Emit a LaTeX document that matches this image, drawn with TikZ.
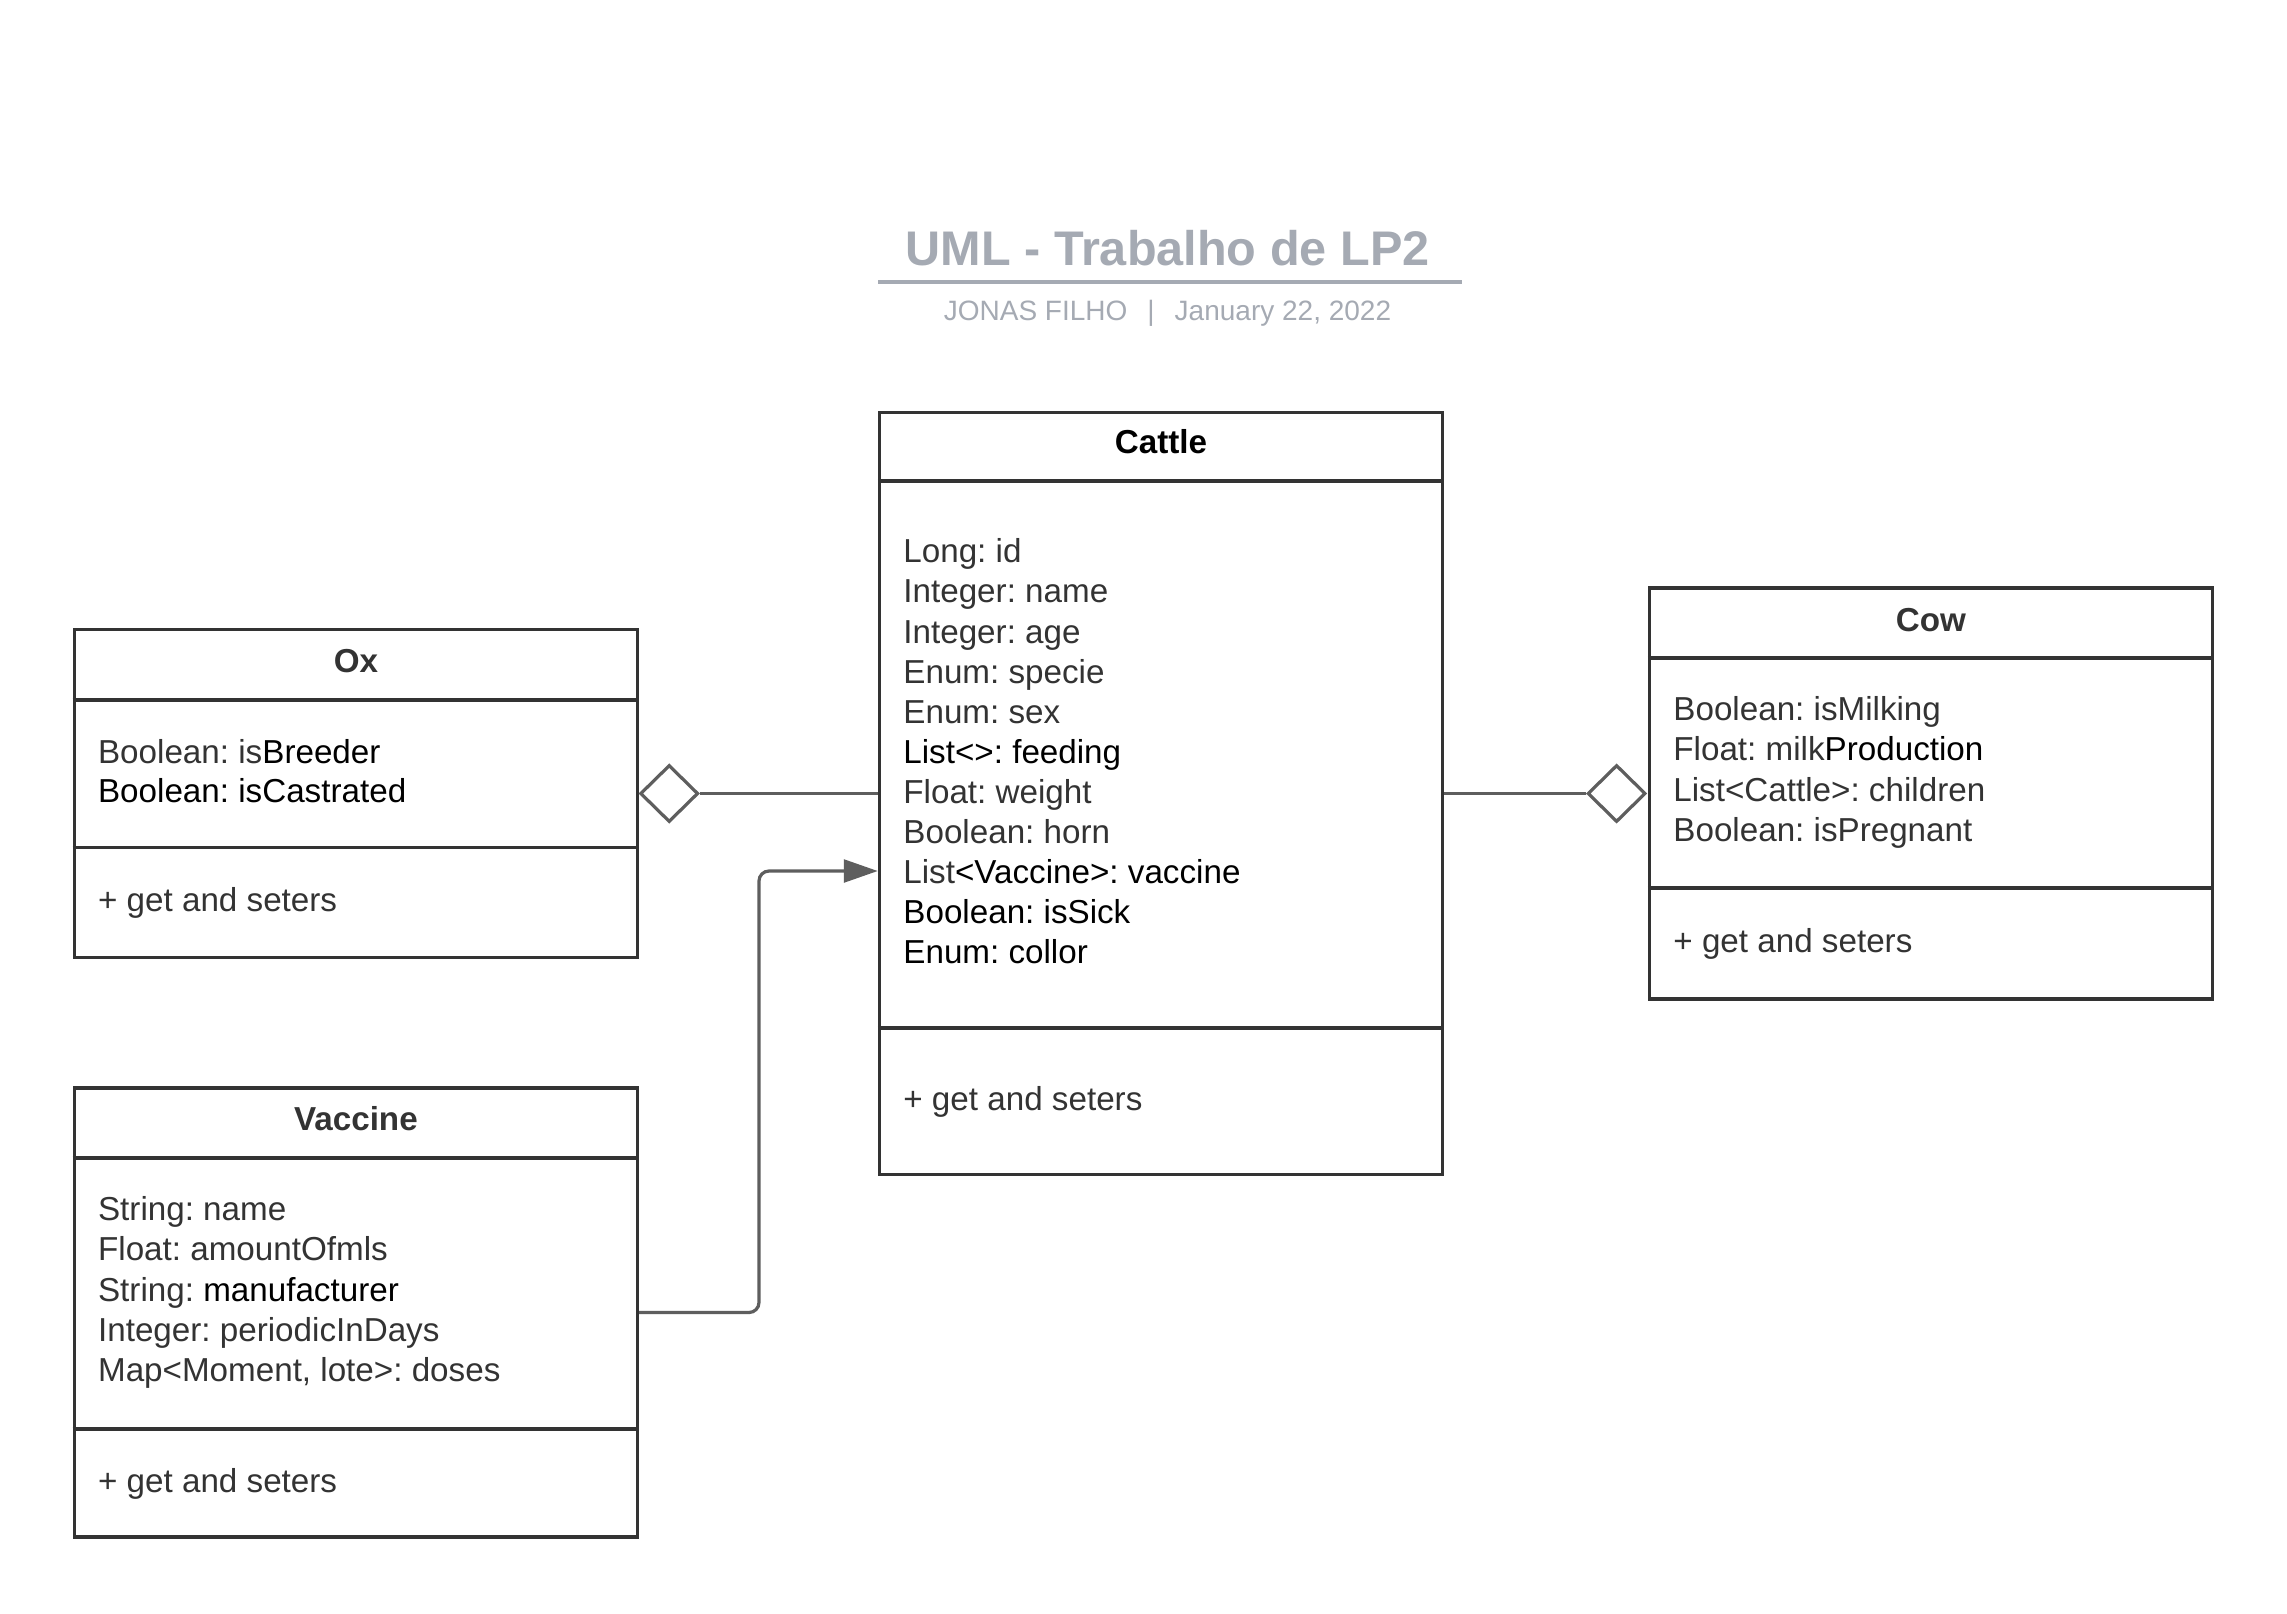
\documentclass[tikz,border=0pt]{standalone}
\usepackage{fontspec}
\setmainfont{Liberation Sans}
\usetikzlibrary{arrows.meta,shapes.geometric}
\definecolor{boxline}{HTML}{333333}
\definecolor{txt}{HTML}{333333}
\definecolor{connc}{HTML}{5E5E5E}
\definecolor{ttl}{HTML}{A5AAB3}
\newcommand{\bk}[1]{\textcolor{black}{#1}}
\tikzset{
  classbox/.style={draw=boxline, line width=1.75pt, fill=white, rectangle, inner sep=0pt, outer sep=0.5\pgflinewidth, minimum width=281.5pt},
  divider/.style={draw=boxline, line width=1.75pt},
  attr/.style={anchor=base west, inner sep=0pt, font=\fontsize{16.6pt}{20pt}\selectfont\frenchspacing, text=txt},
  ctitle/.style={anchor=base, inner sep=0pt, font=\fontsize{16.6pt}{20pt}\selectfont\bfseries, text=txt},
  connline/.style={draw=connc, line width=1.6pt},
  aggr/.style={diamond, draw=connc, line width=1.6pt, fill=white, inner sep=0pt, minimum width=29pt, minimum height=28.5pt, aspect=1},
}
\begin{document}
\frenchspacing
\begin{tikzpicture}[x=0.5pt,y=-0.5pt]
\useasboundingbox[fill=white] (0,0) rectangle (2287,1613);

% ---- Title ----
\node[anchor=base, inner sep=0pt, font=\fontsize{24.3pt}{28pt}\selectfont\bfseries, text=ttl] (title) at (1167.5,265.4) {UML - Trabalho de LP2};
\coordinate (ulL) at (878,281.5);
\coordinate (ulR) at (1461.5,281.5);
\draw[draw=ttl, line width=2pt] (ulL) -- (ulR);
\node[anchor=base, inner sep=0pt, font=\fontsize{14pt}{17pt}\selectfont, text=ttl] (subtitle) at (1167.5,320.7) {JONAS FILHO\hspace{10pt}|\hspace{10pt}January 22, 2022};

% ---- Cattle ----
\node[classbox, minimum height=381pt] (cattle) at (1161,793.5) {};
\draw[divider] (cattle.west |- 0,481) -- (cattle.east |- 0,481);
\draw[divider] (cattle.west |- 0,1028) -- (cattle.east |- 0,1028);
\node[ctitle, text=black] (cattleT) at (1161,453.8) {Cattle};
\foreach \t [count=\i] in {
  {Long: id},
  {Integer: name},
  {Integer: age},
  {Enum: specie},
  {Enum: sex},
  {\bk{List<>: feeding}},
  {Float: weight},
  {Boolean: horn},
  {List\bk{<Vaccine>: vaccine}},
  {\bk{Boolean: isSick}},
  {\bk{Enum: collor}}}
  \node[attr] (cattleA\i) at (903,{562.8+40.1*(\i-1)}) {\t};
\node[attr] (cattleM) at (903,1110) {+ get and seters};

% ---- Ox ----
\node[classbox, minimum height=164pt] (ox) at (355.9,793.5) {};
\draw[divider] (ox.west |- 0,700) -- (ox.east |- 0,700);
\draw[divider] (ox.west |- 0,847.5) -- (ox.east |- 0,847.5);
\node[ctitle] (oxT) at (355.9,672.5) {Ox};
\node[attr] (oxA1) at (97.7,763) {Boolean: is\bk{Breeder}};
\node[attr] (oxA2) at (97.7,802.6) {\bk{Boolean: isCastrated}};
\node[attr] (oxM) at (97.7,911.8) {+ get and seters};

% ---- Cow ----
\node[classbox, minimum height=205.5pt] (cow) at (1931,793.5) {};
\draw[divider] (cow.west |- 0,658) -- (cow.east |- 0,658);
\draw[divider] (cow.west |- 0,888) -- (cow.east |- 0,888);
\node[ctitle] (cowT) at (1931,631.8) {Cow};
\foreach \t [count=\i] in {
  {Boolean: isMilking},
  {Float: milk\bk{Production}},
  {List<Cattle>: children},
  {Boolean: isPregnant}}
  \node[attr] (cowA\i) at (1673,{720.8+40.1*(\i-1)}) {\t};
\node[attr] (cowM) at (1673,952.5) {+ get and seters};

% ---- Vaccine ----
\node[classbox, minimum height=224.5pt] (vaccine) at (355.9,1312.5) {};
\draw[divider] (vaccine.west |- 0,1158) -- (vaccine.east |- 0,1158);
\draw[divider] (vaccine.west |- 0,1429) -- (vaccine.east |- 0,1429);
\node[ctitle] (vaccineT) at (355.9,1130.5) {Vaccine};
\foreach \t [count=\i] in {
  {String: name},
  {Float: amountOfmls},
  {String: \bk{manufacturer}},
  {Integer: periodicInDays},
  {Map<Moment, lote>: doses}}
  \node[attr] (vaccineA\i) at (97.7,{1220.8+40.1*(\i-1)}) {\t};
\node[attr] (vaccineM) at (97.7,1492.2) {+ get and seters};

% ---- Connectors ----
\node[aggr] (aggOx) at (669.2,793.5) {};
\draw[connline] (aggOx.east) -- (cattle.west);

\node[aggr] (aggCow) at (1616.6,793.5) {};
\draw[connline] (cattle.east) -- (aggCow.west);

\coordinate (bend) at (759,871);
\draw[connline, rounded corners=5pt, -{Triangle[length=17pt,width=11.4pt]}] (vaccine.east) -| (bend) -- (bend -| cattle.west);
\end{tikzpicture}
\end{document}
